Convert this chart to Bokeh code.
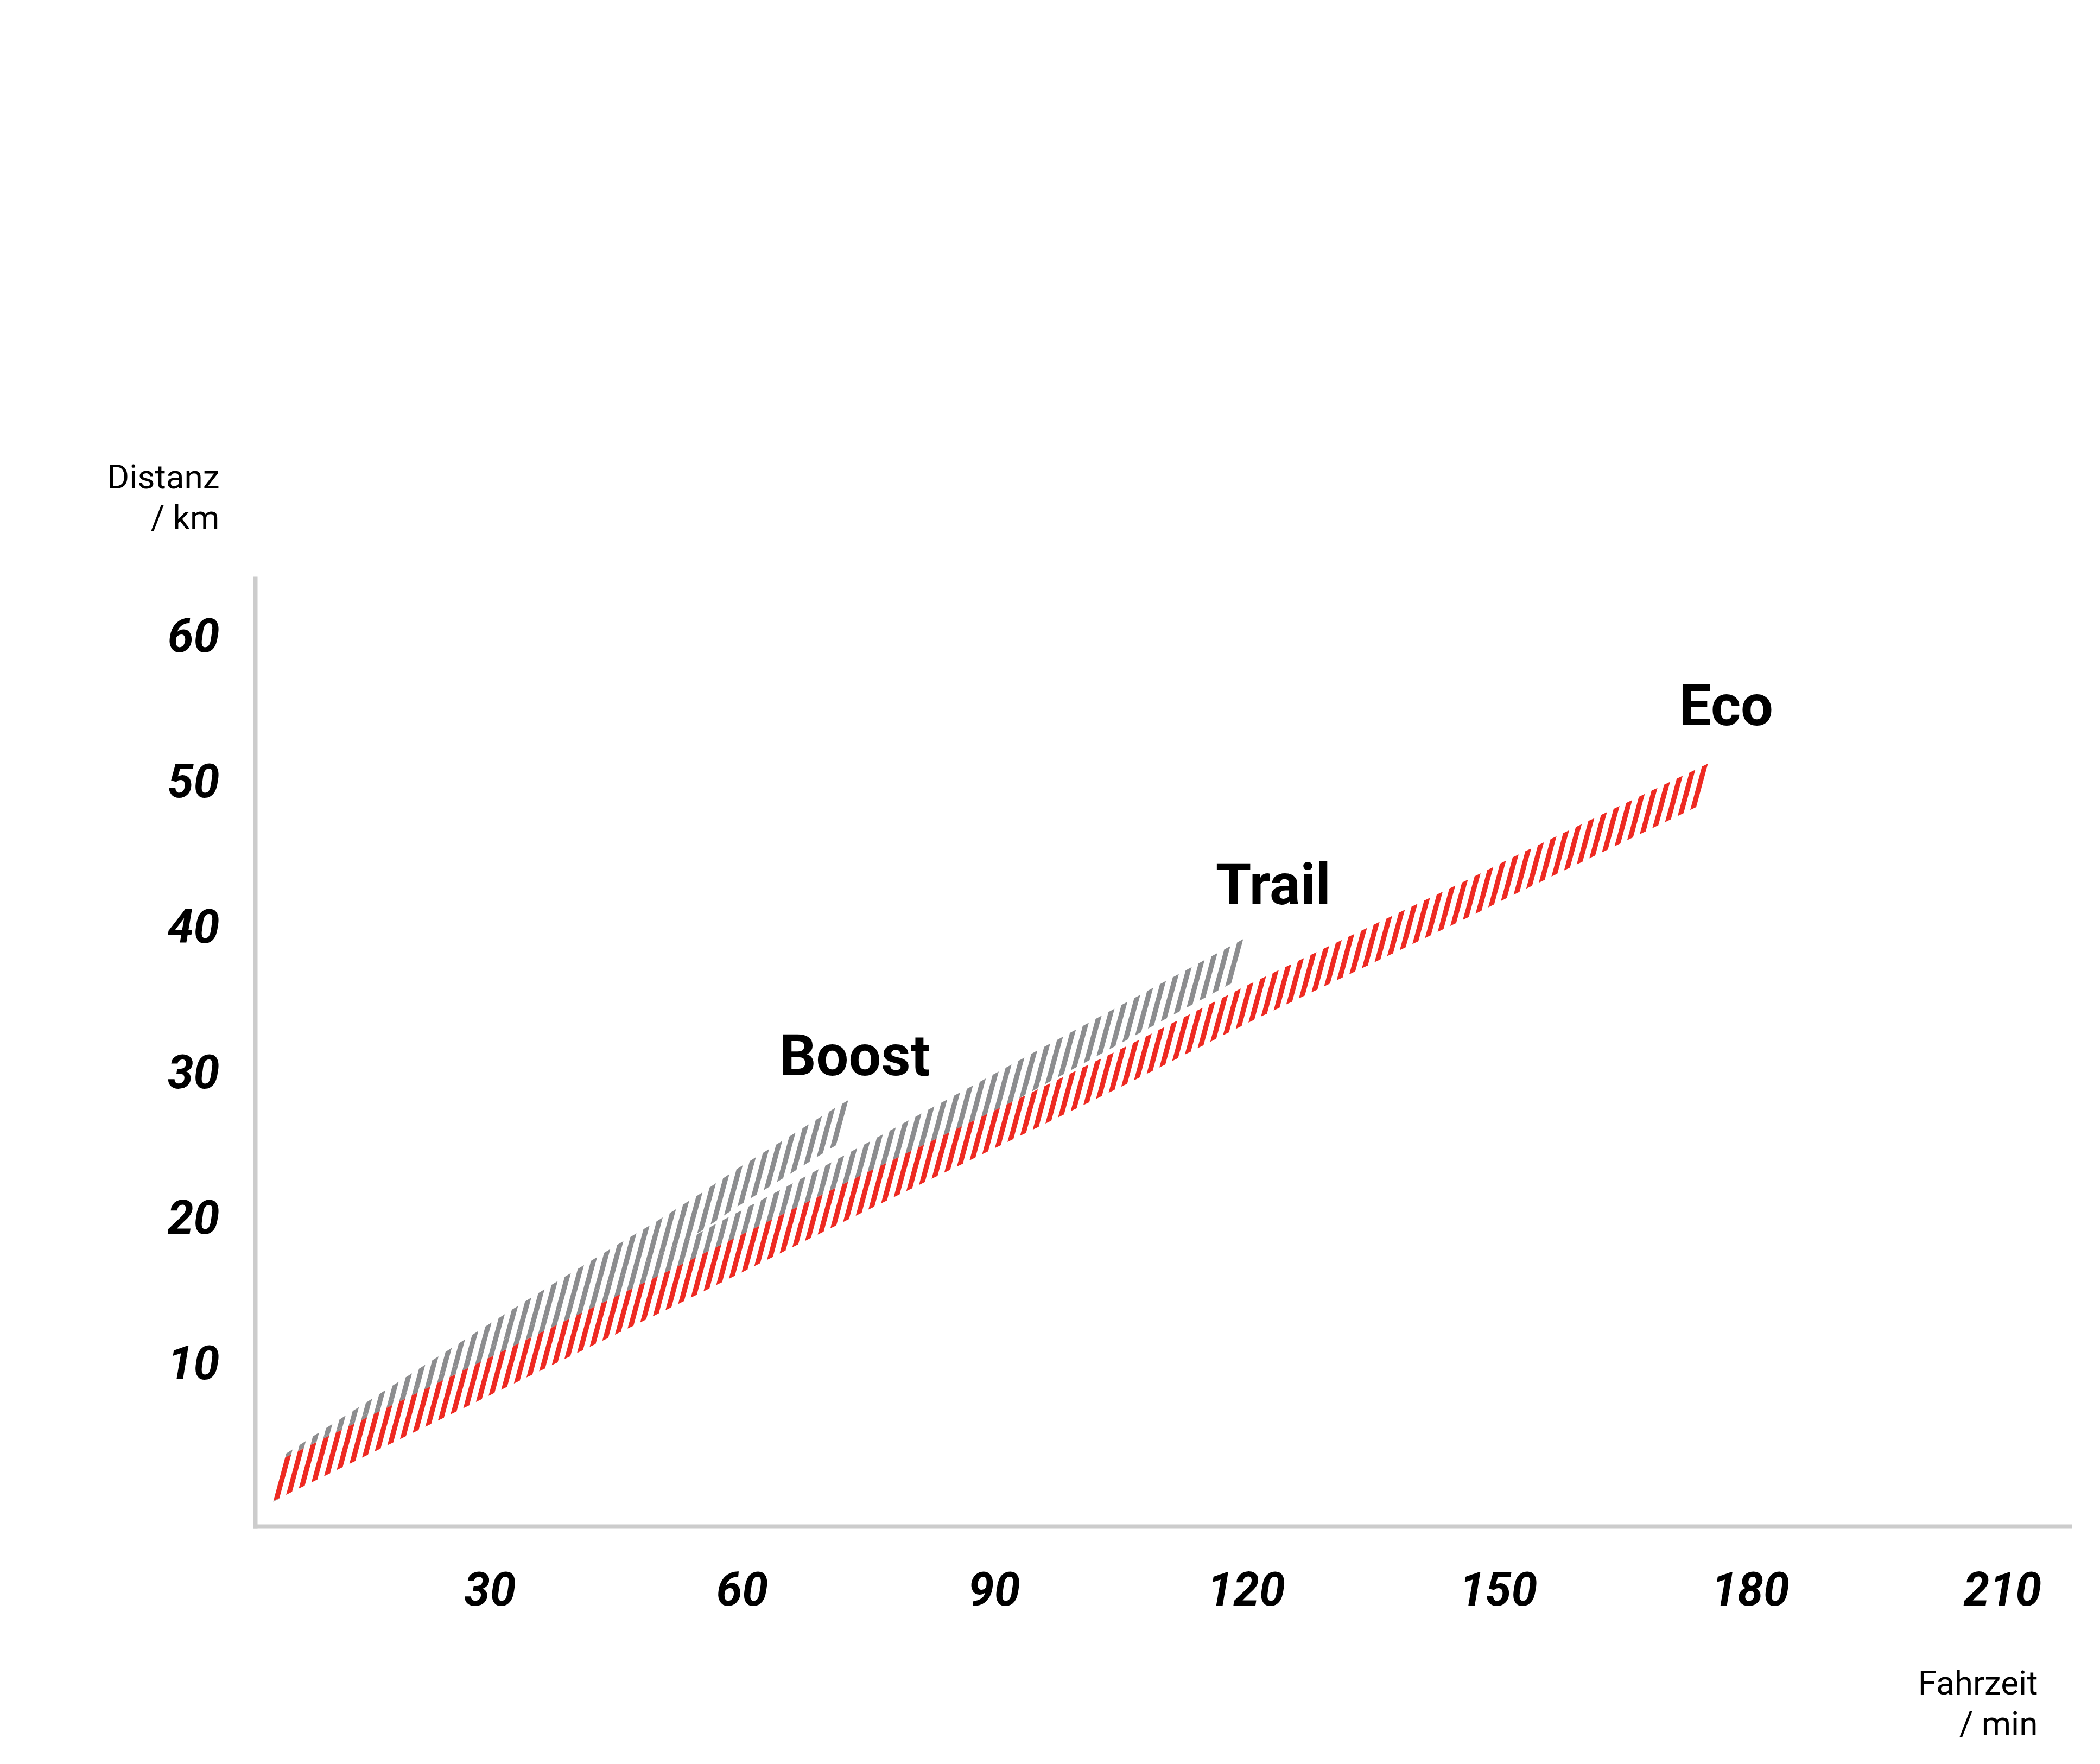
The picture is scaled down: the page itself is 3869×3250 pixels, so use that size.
import numpy as np
from bokeh.plotting import figure
from bokeh.models import Range1d, FixedTicker, Label
from bokeh.embed import file_html
from bokeh.resources import INLINE

# ---------------- data ----------------
x_ticks = [30, 60, 90, 120, 150, 180, 210]
y_ticks = [10, 20, 30, 40, 50, 60]

boost_t = [4.2, 30.5, 37.4, 44.5, 50.0, 55.3, 59.5, 65.1, 70.4, 72.6]
boost_d = [1.85, 11.54, 14.04, 16.54, 18.44, 20.38, 22.02, 24.02, 25.94, 26.7]

trail_t = [4.2, 30.0, 57.9, 64.9, 71.7, 102.1, 119.4, 120.0]
trail_d = [1.7, 9.72, 18.52, 20.64, 22.77, 32.3, 37.7, 37.9]

eco_t = [4.2, 30.6, 51.7, 74.0, 105.7, 120.1, 146.5, 151.7, 174.8]
eco_d = [1.75, 9.2, 15.1, 21.5, 30.4, 34.6, 41.9, 43.4, 49.8]

mode_names = ["Boost", "Trail", "Eco"]

# ---------------- style constants ----------------
RED = "#ee2a22"
GRAY = "#8c8d8f"
AXIS = "#cccccc"
BAND = 2.6          # band thickness (km)
H = BAND / 2
M = 2.137           # hatch slope in data units (km per min)
P = 1.307           # hatch period (min)
W = 0.614           # hatch stripe width (min)
C0 = 4.01           # hatch phase

X_LO, X_HI = 2.07, 218.3     # drawn extent of the axes
Y_LO, Y_HI = -1.31, 64.0

TICK_FONT = "Roboto"
NAME_FONT = "Roboto"
TITLE_FONT = "Roboto"


def f_interp(t, ts, ds):
    ts = np.asarray(ts, float)
    ds = np.asarray(ds, float)
    if t <= ts[0]:
        return ds[0] + (t - ts[0]) * (ds[1] - ds[0]) / (ts[1] - ts[0])
    if t >= ts[-1]:
        return ds[-1] + (t - ts[-1]) * (ds[-1] - ds[-2]) / (ts[-1] - ts[-2])
    return float(np.interp(t, ts, ds))


def hit(c, ts, ds, off):
    d = f_interp(c, ts, ds) + off
    for _ in range(40):
        d = f_interp(c + d / M, ts, ds) + off
    return c + d / M, d


def band(ts, ds):
    stripes = []
    for k in range(-5, 220):
        c = C0 + k * P
        bl = hit(c, ts, ds, -H)
        tr = hit(c + W, ts, ds, H)
        if bl[0] < ts[0] - 0.3 or tr[0] > ts[-1] + 0.3:
            continue
        br = hit(c + W, ts, ds, -H)
        tl = hit(c, ts, ds, H)
        stripes.append((bl, br, tr, tl))
    sx = [[s[0][0], s[1][0], s[2][0], s[3][0]] for s in stripes]
    sy = [[s[0][1], s[1][1], s[2][1], s[3][1]] for s in stripes]
    first, last = stripes[0], stripes[-1]
    ox, oy = [first[0][0]], [first[0][1]]
    for t in np.linspace(first[0][0], last[1][0], 60)[1:-1]:
        ox.append(t); oy.append(f_interp(t, ts, ds) - H)
    ox += [last[1][0], last[2][0]]
    oy += [last[1][1], last[2][1]]
    for t in np.linspace(last[2][0], first[3][0], 60)[1:-1]:
        ox.append(t); oy.append(f_interp(t, ts, ds) + H)
    ox.append(first[3][0]); oy.append(first[3][1])
    return sx, sy, ox, oy


p = figure(width=3853, height=3234,
           x_range=Range1d(-28.29, 220.60), y_range=Range1d(-17.05, 103.62),
           output_backend="svg", toolbar_location=None,
           min_border_left=0, min_border_right=0,
           min_border_top=0, min_border_bottom=0)
p.outline_line_color = None
p.grid.visible = False
p.background_fill_color = "white"
p.border_fill_color = "white"

p.xaxis.fixed_location = Y_LO
p.xaxis.bounds = (X_LO - 0.26, X_HI)
p.yaxis.fixed_location = X_LO
p.yaxis.bounds = (Y_LO - 0.15, Y_HI)

for ax, ticks in ((p.xaxis, x_ticks), (p.yaxis, y_ticks)):
    ax.ticker = FixedTicker(ticks=ticks)
    ax.major_tick_line_color = None
    ax.minor_tick_line_color = None
    ax.axis_line_color = AXIS
    ax.axis_line_width = 8
    ax.major_label_text_font = TICK_FONT
    ax.major_label_text_font_size = "86px"
    ax.major_label_text_font_style = "bold italic"
    ax.major_label_text_color = "black"
p.xaxis.major_label_standoff = 77
p.yaxis.major_label_standoff = 60

series = [(boost_t, boost_d, GRAY), (trail_t, trail_d, GRAY), (eco_t, eco_d, RED)]
for ts, ds, col in series:
    sx, sy, ox, oy = band(ts, ds)
    p.patch(ox, oy, fill_color="white", line_color=None)
    p.patches(sx, sy, fill_color=col, line_color=None)

# mode labels, anchored at the end of each series
name_offsets = [(0.8, 4.36), (3.2, 4.93), (2.3, 5.34)]
for name, (ts, ds, _), (dx, dy) in zip(mode_names, series, name_offsets):
    p.add_layout(Label(x=ts[-1] + dx, y=ds[-1] + dy, text=name,
                       text_font=NAME_FONT, text_font_style="bold",
                       text_font_size="106px", text_color="black",
                       text_align="center", text_baseline="alphabetic"))

# axis titles
for txt, x, y in (("Distanz", -2.2, 70.86), ("/ km", -2.2, 68.06),
                  ("Fahrzeit", 214.2, -12.04), ("/ min", 214.2, -14.84)):
    p.add_layout(Label(x=x, y=y, text=txt, text_font=TITLE_FONT,
                       text_font_size="62px", text_color="black",
                       text_align="right", text_baseline="alphabetic"))

open("out.html", "w").write(file_html(p, INLINE))
